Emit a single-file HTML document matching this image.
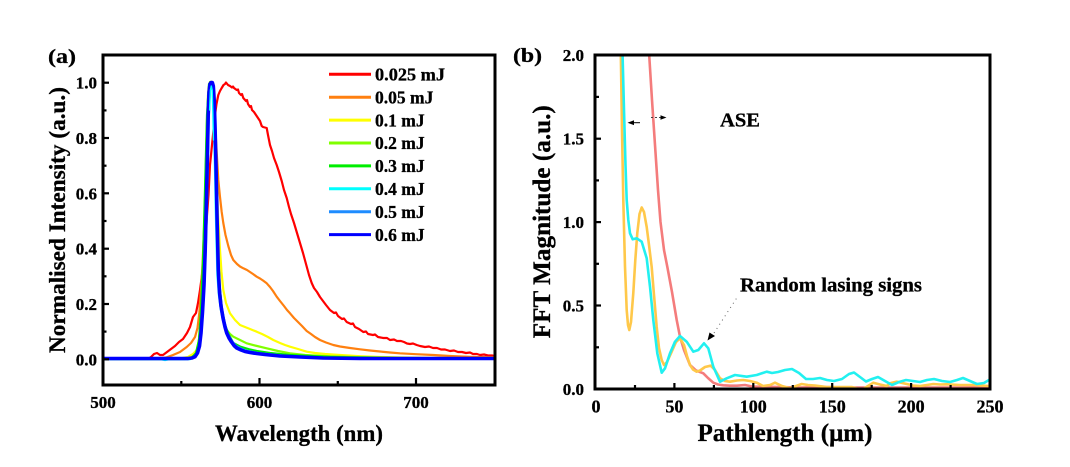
<!DOCTYPE html>
<html><head><meta charset="utf-8"><style>
html,body{margin:0;padding:0;background:#fff;}
svg{display:block;}
text{font-family:"Liberation Serif","DejaVu Serif",serif;font-weight:bold;fill:#000;stroke:#000;stroke-width:0.3;}
</style></head><body>
<svg width="1070" height="467" viewBox="0 0 1070 467" xmlns="http://www.w3.org/2000/svg">
<rect width="1070" height="467" fill="#fff"/>
<defs>
<clipPath id="ca"><rect x="103" y="55" width="392" height="330"/></clipPath>
<clipPath id="cb"><rect x="595" y="55" width="395" height="334"/></clipPath>
</defs>

<!-- ===== Panel A curves ===== -->
<g clip-path="url(#ca)" fill="none" stroke-linejoin="round" stroke-linecap="round">
<polyline stroke="#ff0000" stroke-width="2.2" points="103,359 148,359 151,357 154,354 157,353 160,355 163,355 167,352 171,349 175,346 179,342 183,339 187,333 190,327 193,317 196,313 198,303 200,290 202,275 204,258 205.5,240 207,215 208.5,195 210,165 211.5,150 213.3,132 215,115 216.5,104 218.3,95 220,91 221.7,88 223.5,85 225,84 226,82.5 228,85 230,86 232,87.5 233,86.5 234,88 236.7,90 238,89.5 239,93 241,95 242,94 243.3,98 246,101 247,100 248,104 250,107 251,106 252,110 254,112 256,115 258,118 260,121 261.7,126 263,127 266.7,128 268,135 270,145 272,151 274,158 276.7,165 279,172 281.7,181 284,190 286.7,198 289,207 291,214 294,223 297,233 300,243 303,253 306,264 309,275 311.7,283 314,288 317,292 320,297 323,301 326,305 330,310 334,313 336,312.5 338,316 342,319 344,318.5 346.7,322 351,324 353,323.5 355,327 359,329 363.3,332 366,331.5 368,334 373,335 375,334.5 378,337 383.3,338 387,338 390,340 394,339.5 397,341 401,341 404,342 407,343.5 410,344 413,343.5 416.7,345 420,346 425,347 429,346.5 433,348 437,348 441,349.5 445,349.5 450,351 454,350.5 458,352 462,352 466,353 470,352.5 473,354 477,354 480,355 484,354.5 488,355.5 492,355.5 495,356"/>
<polyline stroke="#ff8010" stroke-width="2.2" points="103,359 150,359 160,358.5 166,357.5 173,355 180,352 186.7,347 191,343 195,337 197.5,328 199.3,313 201,290 202.5,265 204,230 205.5,190 207,140 208.5,100 210,84 211.5,82 213,86 214.5,105 216,140 218.3,180 220,197 221.7,212 223.3,223 225.5,235 228.3,246 231,255 233.3,260 237,264 240,266.5 243.3,268.3 247,270 250,272 253,274 256.7,276.7 260,278.5 263,280.5 266.7,283.3 270,287 273,291 276.7,296.7 280,301 284,306 287,310 290,313.3 294,318 298,322 302,326 306.7,331 311,334 315,337 320,340 326,342.5 333.3,345 340,346.5 350,348 360,349.3 370,350.5 380,351.5 390,352.5 400,353.3 416,354.2 433.3,355 450,356 470,356.8 495,357.3"/>
<polyline stroke="#ffff00" stroke-width="2.2" points="103,359 170,359 180,358.5 188,357 193,354 196.7,350 199,340 201,315 202.5,285 204,240 205.5,180 207,120 208.5,88 210,82 212,82 213.5,90 215,120 216.5,170 218,215 220,250 221.5,272 223.3,290 226,303 230,313.3 235,320 240,325 245,327 250,329 256.7,331.7 262,334 268,337 273.3,340 280,343 285,345 290,346.7 298,349 306.7,351.7 315,353 325,354 340,355 360,356.2 380,357 400,357.5 440,358 495,358.5"/>
<polyline stroke="#80ff00" stroke-width="2.2" points="103,359 180,359 190,358 195,355 198,348 200,330 202,300 203.5,260 205,200 206.5,140 208,95 210,82 212,82 213.5,92 215,130 216.5,190 218,250 220,290 222,310 224.5,322 226.7,330 230,334 233.3,336.7 240,340 246.7,343.3 255,345.5 266.7,348.3 278,351 290,353.3 305,355 323.3,356 350,357 400,358 495,358.5"/>
<polyline stroke="#00ee00" stroke-width="2.2" points="103,359 185,359 192,357.5 196,353 199,340 201,310 203,260 205,190 207,115 209,84 211,82 213,88 214.5,120 216,180 217.5,240 219.5,285 222,310 225,325 229,335 233.3,343 240,346.5 250,349.5 256.7,351 270,353 290,355 330,357 400,358 495,358.5"/>
<polyline stroke="#00ffff" stroke-width="2.4" points="103,359 160,359 165,360 170,359 190,359 194,357 197,353 199.5,345 201.5,330 203,308 204.5,280 206,240 207.2,190 208.2,140 209.2,100 210.2,85 211.3,83.5 212.5,85 213.3,100 214.2,130 215.2,175 216.2,225 217.5,275 219,295 221,310 223.5,322 226,331 230,339 235,346 245,350.5 260,353.5 290,356.5 330,358 495,358.5"/>
<polyline stroke="#1e8cff" stroke-width="2.4" points="103,359 188,359 192,358 195,356 197.5,352 199.5,345 201,332 202.5,310 204,283 205.3,245 206.5,200 207.5,150 208.5,105 209.5,87 210.5,83 212,83 213,87 214,105 215,135 216,180 217,225 218.5,275 220,295 222,309 224.5,322 227,332 231,340 236,346 245,350.5 260,353.5 290,356.3 330,358 495,358.8"/>
<polyline stroke="#0000ff" stroke-width="3.6" points="103,358.5 188,358.5 192,358 195,356.7 197.5,353 199.5,346 201,333 202.5,312 204,285 205.2,250 206.3,205 207.3,160 208.2,115 209,92 210,84 211,82.5 212.3,82.5 213.3,86 214.2,100 215,125 216,165 217,215 218.3,270 219.5,292 221,306 223,318 225,327 226.7,333 229,338 231.5,342 234,345.5 236.7,348 241,350 245,351.5 250,352.5 256.7,353.5 265,354.5 280,356 300,357 323,358 360,358.5 495,358.5"/>
<polyline stroke="#00ffff" stroke-width="1.4" points="209.6,110 210.4,90 211.3,86 212.2,90 212.8,110 213.4,140"/>
</g>

<!-- Panel A axes -->
<rect x="103" y="55" width="392" height="330" fill="none" stroke="#000" stroke-width="3"/>
<g stroke="#000" stroke-width="2.2">
<line x1="103" y1="359.3" x2="109" y2="359.3"/>
<line x1="103" y1="304" x2="109" y2="304"/>
<line x1="103" y1="248.7" x2="109" y2="248.7"/>
<line x1="103" y1="193.3" x2="109" y2="193.3"/>
<line x1="103" y1="138" x2="109" y2="138"/>
<line x1="103" y1="82.7" x2="109" y2="82.7"/>
<line x1="103" y1="331.6" x2="106.5" y2="331.6"/>
<line x1="103" y1="276.3" x2="106.5" y2="276.3"/>
<line x1="103" y1="221" x2="106.5" y2="221"/>
<line x1="103" y1="165.7" x2="106.5" y2="165.7"/>
<line x1="103" y1="110.4" x2="106.5" y2="110.4"/>
<line x1="259.5" y1="385" x2="259.5" y2="378"/>
<line x1="416" y1="385" x2="416" y2="378"/>
<line x1="181.3" y1="385" x2="181.3" y2="381"/>
<line x1="337.8" y1="385" x2="337.8" y2="381"/>
</g>
<g font-size="17" text-anchor="end">
<text x="97" y="365.3">0.0</text>
<text x="97" y="310">0.2</text>
<text x="97" y="254.7">0.4</text>
<text x="97" y="199.3">0.6</text>
<text x="97" y="144">0.8</text>
<text x="97" y="88.7">1.0</text>
</g>
<g font-size="17" text-anchor="middle">
<text x="103" y="408">500</text>
<text x="259.5" y="408">600</text>
<text x="416" y="408">700</text>
</g>
<text x="299" y="441" font-size="23" text-anchor="middle" textLength="168" lengthAdjust="spacingAndGlyphs">Wavelength (nm)</text>
<text transform="translate(65,220) rotate(-90)" font-size="23" text-anchor="middle" textLength="266" lengthAdjust="spacingAndGlyphs">Normalised Intensity (a.u.)</text>
<text x="48" y="63" font-size="20" textLength="28" lengthAdjust="spacingAndGlyphs">(a)</text>

<!-- Legend -->
<g stroke-width="3" fill="none">
<line x1="329" y1="74.3" x2="371" y2="74.3" stroke="#ff0000"/>
<line x1="329" y1="97.2" x2="371" y2="97.2" stroke="#ff8010"/>
<line x1="329" y1="120.1" x2="371" y2="120.1" stroke="#ffff00"/>
<line x1="329" y1="143" x2="371" y2="143" stroke="#80ff00"/>
<line x1="329" y1="165.9" x2="371" y2="165.9" stroke="#00ee00"/>
<line x1="329" y1="188.8" x2="371" y2="188.8" stroke="#00ffff"/>
<line x1="329" y1="211.7" x2="371" y2="211.7" stroke="#1e8cff"/>
<line x1="329" y1="234.6" x2="371" y2="234.6" stroke="#0000ff"/>
</g>
<g font-size="17.5">
<text x="375" y="80.5" textLength="70" lengthAdjust="spacingAndGlyphs">0.025 mJ</text>
<text x="375" y="103.4">0.05 mJ</text>
<text x="375" y="126.3">0.1 mJ</text>
<text x="375" y="149.2">0.2 mJ</text>
<text x="375" y="172.1">0.3 mJ</text>
<text x="375" y="195">0.4 mJ</text>
<text x="375" y="217.9">0.5 mJ</text>
<text x="375" y="240.8">0.6 mJ</text>
</g>

<!-- ===== Panel B curves ===== -->
<g clip-path="url(#cb)" fill="none" stroke-linejoin="round" stroke-linecap="round" stroke-width="2.6">
<polyline stroke="#f47c7c" points="649,52 652,100 655,145 658,190 660.5,222 664,250 667.3,266.7 672,292 676.7,320 680,336.7 684,350 690,365 696,370.5 703.3,373.3 708,378 713.3,382.7 718,384.5 723.3,385.3 730,385.7 737,385.7 745,385 752,386.5 760,386.7 780,387 800,387.5 820,387 850,387.5 880,387.5 920,387.5 960,387.5 989,387"/>
<polyline stroke="#ffc84a" points="620.8,52 622,130 623.3,200 625,266.7 626.7,310 628,325 629.3,330 631,322 633.3,293 635.3,260 637.3,233 639.5,214 641.7,207.5 644,212 646.7,227 649,245 651.7,267 654,295 656.7,327 659,348 661.7,360 664,365 667,362 671.7,351.7 676,342 680,338.3 684,345 687,356 690,365 693,369.5 696.7,371.7 700,370.5 705,367 710.7,365.7 715,370 720,378.3 725,381 730,381.7 737,380.5 743.3,380 750,381 756.7,382.7 763,386 770,385 775,382.7 782,386 790,388.3 796,386 801.7,384 808,385 815,385.5 826.7,387 840,387 851.7,387 857,388.5 863.3,389 868,386 873.3,382.7 880,384.5 886.7,386 891,383 896.7,381.7 906.7,384 913,385.5 920,386 927,385 933.3,384 940,384.5 946.7,384.3 960,385 973.3,385 980,385.5 989,386"/>
<polyline stroke="#22f0f0" points="622.5,52 624,110 625.5,165 626.7,200 628.3,220 630,233.3 632.7,239.3 636.7,238.3 641.7,241.7 646.7,258.3 650,286.7 653.3,320 657.3,353.3 661.7,372.7 665,368.3 670,353.3 675,341.7 680,336 686.7,341.7 693.3,351.7 698.3,350 704,343.3 708.3,348.3 713.3,366.7 720,381.7 726.7,378.3 735,375 746.7,376.7 756.7,375 766.7,371.7 772,373 778,372 785,370 792,369 799,373 806,379 813,379 820,378 827,380 834,381 842,379 849,374 854,372.5 860,377 866,381.5 872,379 878,377 885,381 892,385 899,382 906,380 913,381 920,382 927,380 934,379 942,381 950,382 957,380 963,378 970,381 977,384 984,383 989,380"/>
</g>

<!-- Panel B axes -->
<rect x="595" y="55" width="395" height="334" fill="none" stroke="#000" stroke-width="3"/>
<g stroke="#000" stroke-width="2.2">
<line x1="595" y1="389" x2="601" y2="389"/>
<line x1="595" y1="305.5" x2="601" y2="305.5"/>
<line x1="595" y1="222.1" x2="601" y2="222.1"/>
<line x1="595" y1="138.7" x2="601" y2="138.7"/>
<line x1="595" y1="347.3" x2="599" y2="347.3"/>
<line x1="595" y1="263.8" x2="599" y2="263.8"/>
<line x1="595" y1="180.4" x2="599" y2="180.4"/>
<line x1="595" y1="96.9" x2="599" y2="96.9"/>
<line x1="674.4" y1="389" x2="674.4" y2="383"/>
<line x1="753.3" y1="389" x2="753.3" y2="383"/>
<line x1="832.2" y1="389" x2="832.2" y2="383"/>
<line x1="911.1" y1="389" x2="911.1" y2="383"/>
<line x1="635" y1="389" x2="635" y2="385"/>
<line x1="713.9" y1="389" x2="713.9" y2="385"/>
<line x1="792.8" y1="389" x2="792.8" y2="385"/>
<line x1="871.7" y1="389" x2="871.7" y2="385"/>
<line x1="950.6" y1="389" x2="950.6" y2="385"/>
</g>
<g font-size="17" text-anchor="end">
<text x="584" y="395">0.0</text>
<text x="584" y="311.5">0.5</text>
<text x="584" y="228.1">1.0</text>
<text x="584" y="144.7">1.5</text>
<text x="584" y="61.2">2.0</text>
</g>
<g font-size="18" text-anchor="middle">
<text x="596" y="412.5">0</text>
<text x="674.4" y="412.5">50</text>
<text x="753.3" y="412.5">100</text>
<text x="832.2" y="412.5">150</text>
<text x="911.1" y="412.5">200</text>
<text x="990" y="412.5">250</text>
</g>
<text x="785" y="441" font-size="25" text-anchor="middle" textLength="175" lengthAdjust="spacingAndGlyphs">Pathlength (μm)</text>
<text transform="translate(550,221.7) rotate(-90)" font-size="25" text-anchor="middle" textLength="233" lengthAdjust="spacingAndGlyphs">FFT Magnitude (a.u.)</text>
<text x="513" y="62" font-size="20" textLength="29" lengthAdjust="spacingAndGlyphs">(b)</text>

<!-- Annotations -->
<text x="720" y="126.7" font-size="20" textLength="40" lengthAdjust="spacingAndGlyphs">ASE</text>
<text x="740" y="291.7" font-size="20" textLength="182" lengthAdjust="spacingAndGlyphs">Random lasing signs</text>
<line x1="632" y1="122.7" x2="640" y2="122.7" stroke="#000" stroke-width="1"/>
<polygon points="627.5,122.7 634,120.3 634,125.1" fill="#000"/>
<line x1="651" y1="117.5" x2="661" y2="117.5" stroke="#444" stroke-width="1" stroke-dasharray="2,2"/>
<polygon points="666.5,117.5 660.5,115.2 660.5,119.8" fill="#000"/>
<line x1="714" y1="333" x2="738" y2="296" stroke="#666" stroke-width="1" stroke-dasharray="1,4"/>
<polygon points="707.5,340.5 709.5,332.5 715,336" fill="#000"/>
</svg>
</body></html>
